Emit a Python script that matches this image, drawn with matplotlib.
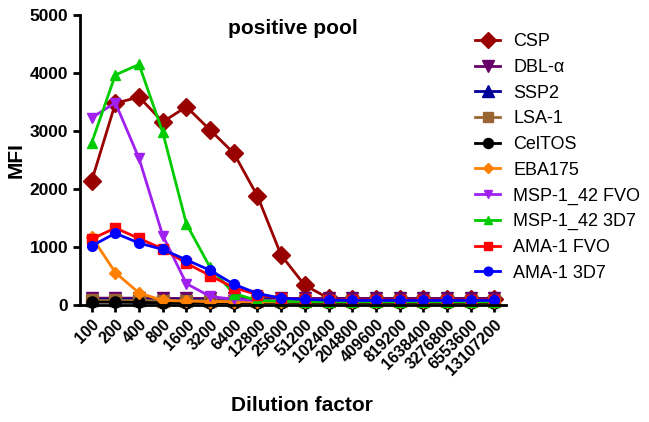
import matplotlib
matplotlib.use('Agg')
import matplotlib.pyplot as plt

plt.rcParams['font.family'] = ['Liberation Sans', 'DejaVu Sans']

dilutions = ['100', '200', '400', '800', '1600', '3200', '6400', '12800', '25600',
             '51200', '102400', '204800', '409600', '819200', '1638400', '3276800',
             '6553600', '13107200']

csp = [2140, 3480, 3590, 3160, 3420, 3020, 2620, 1880, 860, 340, 120, 110, 110, 110, 110, 110, 110, 110]
dbl_alpha = [120, 120, 120, 115, 115, 115, 115, 115, 115, 115, 115, 115, 115, 115, 115, 115, 115, 115]
ssp2 = [95, 95, 95, 90, 90, 90, 90, 90, 90, 90, 90, 90, 90, 90, 90, 90, 90, 90]
lsa1 = [80, 80, 80, 75, 75, 75, 75, 75, 75, 75, 75, 75, 75, 75, 75, 75, 75, 75]
celtos = [50, 50, 45, 40, 40, 40, 40, 40, 40, 40, 40, 40, 40, 40, 40, 40, 40, 40]
eba175 = [1180, 560, 210, 80, 70, 60, 60, 55, 55, 55, 55, 55, 55, 55, 55, 55, 55, 55]
msp_fvo = [3230, 3490, 2530, 1200, 370, 150, 100, 80, 75, 75, 75, 75, 75, 75, 75, 75, 75, 75]
msp_3d7 = [2800, 3970, 4150, 2980, 1400, 650, 200, 80, 65, 60, 60, 60, 60, 60, 60, 60, 60, 60]
ama_fvo = [1140, 1330, 1150, 970, 720, 510, 300, 180, 120, 100, 90, 90, 90, 90, 90, 90, 90, 90]
ama_3d7 = [1020, 1240, 1070, 960, 780, 600, 360, 200, 120, 100, 85, 80, 80, 80, 80, 80, 80, 80]

series = [
    ('CSP', csp, '#990000', 'D', 9),
    ('DBL-\u03b1', dbl_alpha, '#660066', 'v', 9),
    ('SSP2', ssp2, '#000099', '^', 9),
    ('LSA-1', lsa1, '#996633', 's', 8),
    ('CelTOS', celtos, '#000000', 'o', 8),
    ('EBA175', eba175, '#ff8000', 'D', 6),
    ('MSP-1_42 FVO', msp_fvo, '#a020f0', 'v', 7),
    ('MSP-1_42 3D7', msp_3d7, '#00cc00', '^', 7),
    ('AMA-1 FVO', ama_fvo, '#ff0000', 's', 7),
    ('AMA-1 3D7', ama_3d7, '#0000ff', 'o', 7),
]

fig = plt.figure(figsize=(6.49, 4.22), dpi=100)
ax = fig.add_axes([0.123, 0.277, 0.657, 0.687])

x = list(range(len(dilutions)))
for name, vals, color, marker, ms in series:
    ax.plot(x, vals, color=color, marker=marker, markersize=ms, linewidth=2,
            label=name, clip_on=False)

ax.set_xlim(-0.5, len(dilutions) - 0.5)
ax.set_ylim(0, 5000)
ax.set_yticks([0, 1000, 2000, 3000, 4000, 5000])
ax.set_xticks(x)
ax.set_xticklabels(dilutions, rotation=45, ha='right', rotation_mode='anchor',
                   fontsize=11.5, fontweight='bold')
for lbl in ax.get_yticklabels():
    lbl.set_fontweight('bold')
    lbl.set_fontsize(12.5)

for side in ['top', 'right']:
    ax.spines[side].set_visible(False)
for side in ['left', 'bottom']:
    ax.spines[side].set_linewidth(2)
ax.tick_params(direction='out', width=2, length=5)

ax.set_ylabel('MFI', fontsize=15, fontweight='bold')
ax.yaxis.set_label_coords(-0.128, 0.5)
ax.set_xlabel('Dilution factor', fontsize=15, fontweight='bold')
ax.xaxis.set_label_coords(0.52, -0.315)
ax.text(0.5, 0.955, 'positive pool', transform=ax.transAxes, ha='center', va='center',
        fontsize=15, fontweight='bold')

fig.legend(loc='upper left', bbox_to_anchor=(0.721, 0.938), frameon=False, fontsize=13,
           handlelength=1.4, handletextpad=0.72, labelspacing=0.48, borderaxespad=0.0,
           markerscale=0.9)

fig.savefig('out.png', dpi=100)
